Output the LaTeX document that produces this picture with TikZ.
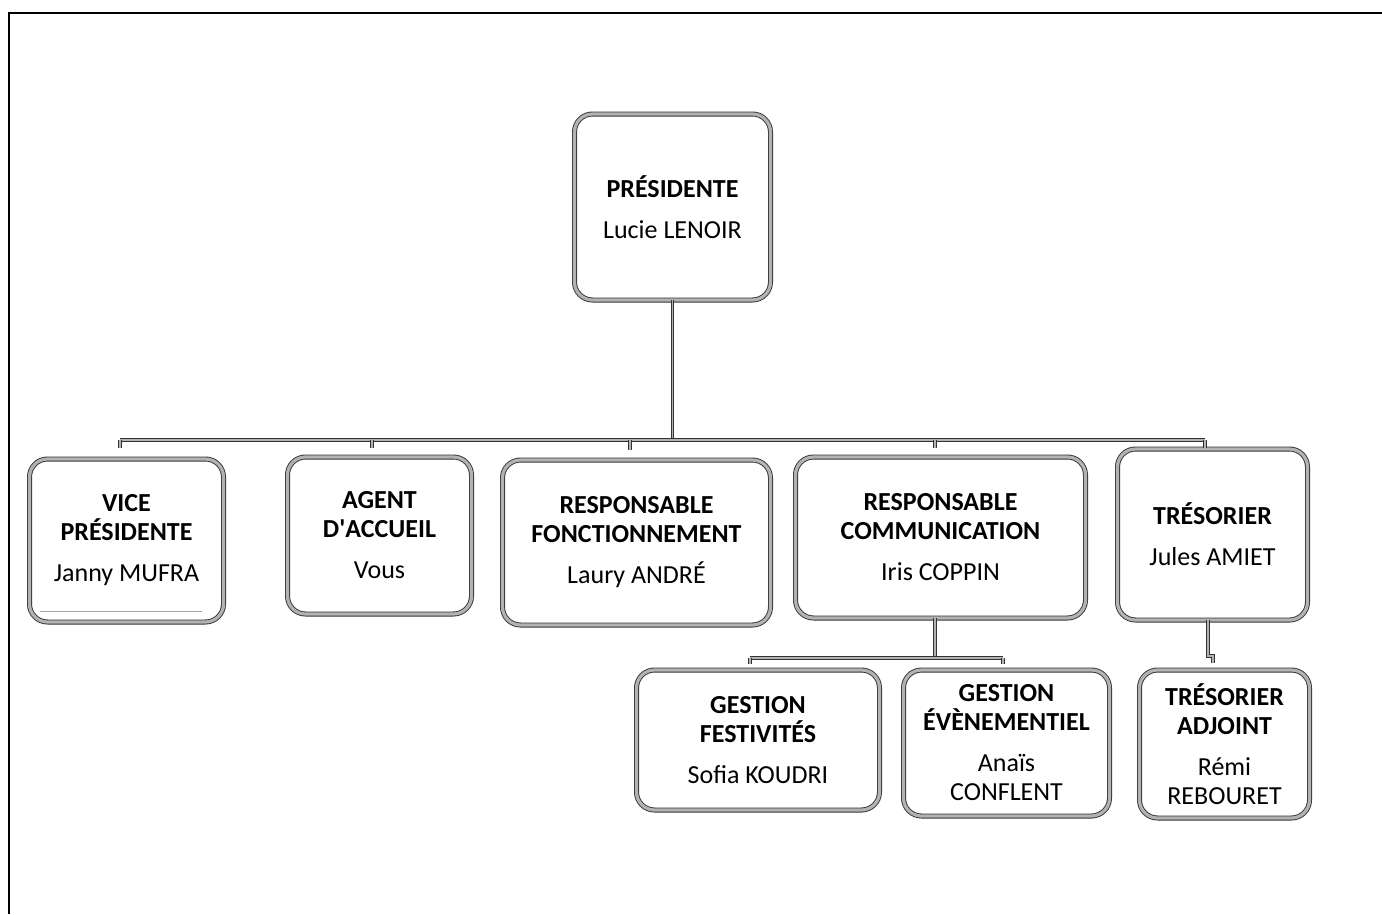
\documentclass[tikz,border=0pt]{standalone}
\usepackage{fontspec}
\setmainfont{Carlito}
\begin{document}
\begin{tikzpicture}[x=1pt,y=-1pt,
  box/.style={draw=black!80, double=gray!60, double distance=3.2pt, line width=0.9pt,
    rounded corners=18pt, fill=white, align=center, inner sep=0pt,
    font=\fontsize{26}{29}\selectfont, text=black},
  link/.style={draw=black!80, double=gray!60, double distance=1.8pt, line width=0.8pt}]
\useasboundingbox (0,0) rectangle (1382,914);
\draw[line width=2pt, black] (9,914) -- (9,13) -- (1382,13);

\node[box, minimum width=196pt, minimum height=186pt] (pres) at (672.5,207)
  {\textbf{PRÉSIDENTE}\\[12pt]Lucie LENOIR};
\node[box, minimum width=194pt, minimum height=163pt] (vice) at (126.5,540.5)
  {\textbf{VICE}\\\textbf{PRÉSIDENTE}\\[12pt]Janny MUFRA};
\node[box, minimum width=184pt, minimum height=157pt] (agent) at (379.5,535.5)
  {\textbf{AGENT}\\\textbf{D\textquotesingle ACCUEIL}\\[12pt]Vous};
\node[box, minimum width=268pt, minimum height=165pt] (fonct) at (636.5,542.5)
  {\textbf{RESPONSABLE}\\\textbf{FONCTIONNEMENT}\\[12pt]Laury ANDRÉ};
\node[box, minimum width=290pt, minimum height=161pt] (comm) at (940.5,537.5)
  {\textbf{RESPONSABLE}\\\textbf{COMMUNICATION}\\[12pt]Iris COPPIN};
\node[box, minimum width=190pt, minimum height=171pt] (tres) at (1212.5,534.5)
  {\textbf{TRÉSORIER}\\[12pt]Jules AMIET};
\node[box, minimum width=243pt, minimum height=140pt] (fest) at (758,740)
  {\textbf{GESTION}\\\textbf{FESTIVITÉS}\\[12pt]Sofia KOUDRI};
\node[box, minimum width=206pt, minimum height=146pt] (even) at (1006.5,743)
  {\textbf{GESTION}\\\textbf{ÉVÈNEMENTIEL}\\[12pt]Anaïs\\CONFLENT};
\node[box, minimum width=170pt, minimum height=148pt] (adj) at (1224.5,744)
  {\textbf{TRÉSORIER}\\\textbf{ADJOINT}\\[12pt]Rémi\\REBOURET};

\draw[gray!70, line width=1pt] (40,611) -- (202,611);

% main bus
\coordinate (busY) at (0,440);
\draw[link] (pres.south) -- (pres.south |- busY);
\draw[link] (120,440) -- (1205,440);
\draw[link] (120,440) -- (120,448);
\draw[link] (372,440) -- (372,448);
\draw[link] (630,440) -- (630,450);
\draw[link] (935,440) -- (935,448);
\draw[link] (1205,440) -- (1205,448);

% communication sub bus
\draw[link] (comm.south -| 935,0) -- (935,658);
\draw[link] (750,658) -- (1003,658);
\draw[link] (750,658) -- (750,664);
\draw[link] (1003,658) -- (1003,664);

% tresorier to adjoint
\draw[link] (tres.south -| 1208,0) -- (1208,656) -- (1213,656) -- (1213,663);
\end{tikzpicture}
\end{document}
